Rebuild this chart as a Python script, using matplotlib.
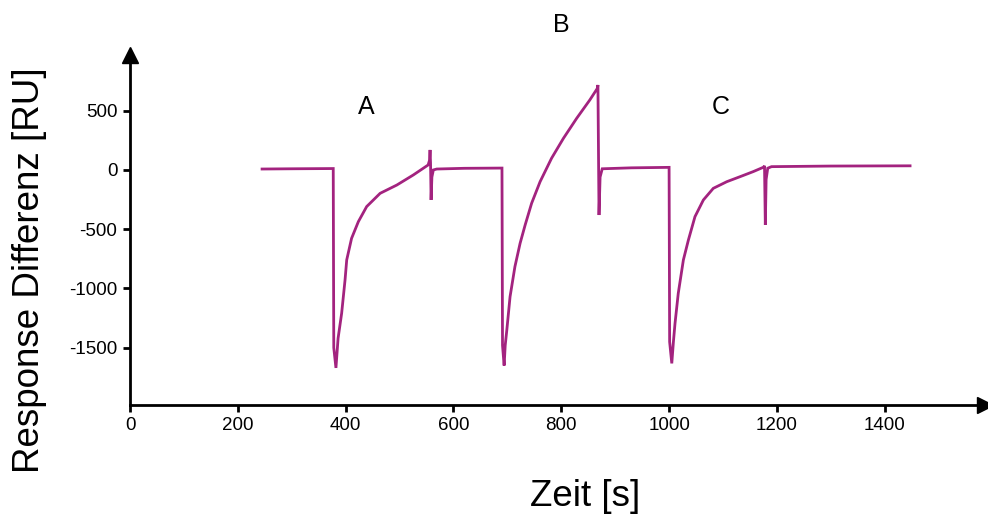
import matplotlib
matplotlib.use("Agg")
import matplotlib.pyplot as plt

plt.rcParams['font.family'] = ['Liberation Sans', 'DejaVu Sans']
plt.rcParams['axes.unicode_minus'] = False

# Sensorgram data (time in s, response difference in RU)
time = [245, 300, 377, 378, 382, 386, 392.6, 398.9, 402, 411, 423.6, 439, 464, 495,
        525.6, 553, 555.5, 556.6, 557.5, 558.5, 560, 562.7, 569, 620, 690,
        691, 694, 696, 699, 705, 714, 723.6, 733, 745, 760.7, 782, 804, 828.6, 853, 867,
        868, 870, 872, 876, 930, 1000,
        1001, 1005, 1008, 1011, 1017, 1026.5, 1035.8, 1048, 1063.6, 1082, 1107, 1132,
        1156, 1175, 1177, 1178.5, 1180, 1183, 1190, 1300, 1447]
response = [8, 10, 12, -1500, -1670, -1420, -1209, -928, -759, -577, -436, -309, -197, -127,
            -42, 42, 80, 169, 60, -253, -60, 0, 8, 14, 16,
            -1480, -1650, -1480, -1350, -1069, -816, -619, -464, -281, -99, 99, 267, 436, 591, 689,
            717, -380, -60, 10, 18, 22,
            -1450, -1632, -1450, -1294, -1041, -759, -591, -394, -253, -155, -99, -56,
            -14, 23, 35, -464, -80, 15, 28, 33, 35]

labels = ["A", "B", "C"]
label_x = [438, 800, 1095]
label_y = [532, 1224, 532]

xticks = [0, 200, 400, 600, 800, 1000, 1200, 1400]
yticks = [-1500, -1000, -500, 0, 500]

fig = plt.figure(figsize=(9.88, 5.19), dpi=100)
ax = fig.add_axes([130/988, 1-405/519, 855/988, 350/519])

ax.plot(time, response, color='#A3237F', lw=2.0, solid_joinstyle='miter')

ax.set_xlim(0, 1586)
ax.set_ylim(-1983, 970)
ax.set_xticks(xticks)
ax.set_yticks(yticks)
ax.tick_params(axis='both', direction='out', length=5, width=2, labelsize=13.5, colors='black', pad=4)

for s in ['top', 'right']:
    ax.spines[s].set_visible(False)
for s in ['left', 'bottom']:
    ax.spines[s].set_linewidth(2)

ax.plot(1, 0, '>', color='black', markersize=11, transform=ax.transAxes, clip_on=False)
ax.plot(0, 1, '^', color='black', markersize=11, transform=ax.transAxes, clip_on=False)

for t, x, y in zip(labels, label_x, label_y):
    ax.text(x, y, t, fontsize=18, ha='center', va='center', clip_on=False)

fig.text(585/988, 1-497/519, 'Zeit [s]', fontsize=26.5, ha='center', va='center')
fig.text(30/988, 1-270/519, 'Response Differenz [RU]', fontsize=26.5, ha='center', va='center',
         rotation=90)

fig.savefig('out.png', dpi=100)
